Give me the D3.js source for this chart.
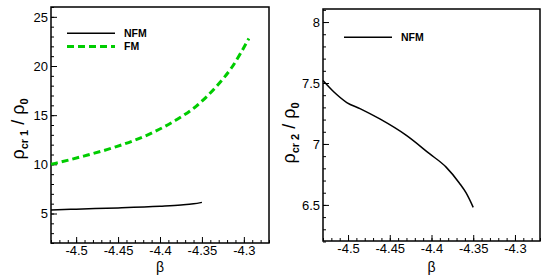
<!DOCTYPE html>
<html>
<head>
<meta charset="utf-8">
<script src="https://cdn.jsdelivr.net/npm/d3@7"></script>
<style>
  body { margin: 0; background: #fff; }
  text { font-family: "Liberation Sans", Arial, sans-serif; }
</style>
</head>
<body>
<div id="vis"></div>
<script>
// values
const betaTicks = [-4.5, -4.45, -4.4, -4.35, -4.3];
const rho1Ticks = [5, 10, 15, 20, 25];
const rho2Ticks = [6.5, 7, 7.5, 8];

const nfm1Beta = [-4.53, -4.5, -4.45, -4.4, -4.375, -4.36, -4.35];
const nfm1Rho  = [5.35, 5.44, 5.57, 5.74, 5.86, 5.98, 6.13];

const fmBeta = [-4.53, -4.525, -4.491, -4.452, -4.412, -4.381, -4.357, -4.333, -4.314, -4.294];
const fmRho  = [10.0, 10.1, 10.84, 11.8, 13.1, 14.5, 15.9, 17.9, 19.9, 22.8];

const nfm2Beta = [-4.53, -4.5175, -4.5015, -4.4857, -4.4619, -4.4301, -4.4024, -4.3825, -4.3667, -4.3587, -4.35];
const nfm2Rho  = [7.52, 7.43, 7.34, 7.29, 7.205, 7.07, 6.92, 6.81, 6.68, 6.60, 6.48];

const width = 544, height = 278;

const svg = d3.select("#vis").append("svg")
  .attr("width", width)
  .attr("height", height)
  .attr("viewBox", [0, 0, width, height]);

function panel(opt) {
  const x = d3.scaleLinear([-4.53, -4.27], [opt.left, opt.right]);
  const y = d3.scaleLinear(opt.yDomain, [opt.bottom, opt.top]);
  const g = svg.append("g");

  // minor ticks
  const xMinor = d3.range(-453, -426).map(i => i / 100);
  g.append("g")
    .attr("transform", `translate(0,${opt.bottom})`)
    .call(d3.axisBottom(x).tickValues(xMinor).tickSize(-3).tickFormat(""))
    .call(a => a.select(".domain").remove());
  g.append("g")
    .attr("transform", `translate(${opt.left},0)`)
    .call(d3.axisLeft(y).tickValues(opt.yMinor).tickSize(-3).tickFormat(""))
    .call(a => a.select(".domain").remove());

  // major ticks + labels
  g.append("g")
    .attr("transform", `translate(0,${opt.bottom})`)
    .call(d3.axisBottom(x).tickValues(betaTicks).tickSize(-6).tickPadding(3).tickFormat(d => String(d)))
    .call(a => a.select(".domain").remove())
    .call(a => a.selectAll("text").attr("font-size", 13).attr("font-family", "Liberation Sans, Arial, sans-serif").attr("fill", "#000"));
  g.append("g")
    .attr("transform", `translate(${opt.left},0)`)
    .call(d3.axisLeft(y).tickValues(opt.yTicks).tickSize(-6).tickPadding(3).tickFormat(d => String(d)))
    .call(a => a.select(".domain").remove())
    .call(a => a.selectAll("text").attr("font-size", 13).attr("font-family", "Liberation Sans, Arial, sans-serif").attr("fill", "#000"));
  g.selectAll(".tick line").attr("stroke", "#000").attr("stroke-width", 1);

  // frame
  g.append("rect")
    .attr("x", opt.left).attr("y", opt.top)
    .attr("width", opt.right - opt.left).attr("height", opt.bottom - opt.top)
    .attr("fill", "none").attr("stroke", "#000").attr("stroke-width", 1.5);

  const line = d3.line().x(d => x(d[0])).y(d => y(d[1])).curve(d3.curveMonotoneX);

  opt.series.forEach(s => {
    g.append("path")
      .datum(d3.zip(s.xs, s.ys))
      .attr("fill", "none")
      .attr("stroke", s.color)
      .attr("stroke-width", s.width)
      .attr("stroke-dasharray", s.dash || null)
      .attr("d", line);
  });

  // legend
  opt.series.forEach((s, i) => {
    const ly = opt.legendY + i * 13.3;
    g.append("line")
      .attr("x1", opt.legendX).attr("x2", opt.legendX + 48)
      .attr("y1", ly).attr("y2", ly)
      .attr("stroke", s.color).attr("stroke-width", s.width)
      .attr("stroke-dasharray", s.dash || null);
    g.append("text")
      .attr("x", opt.legendX + 57).attr("y", ly)
      .attr("dy", "0.36em")
      .attr("font-size", 10.5).attr("font-weight", "bold")
      .text(s.name);
  });

  // axis titles
  g.append("text")
    .attr("x", x(-4.4))
    .attr("y", 272)
    .attr("text-anchor", "middle")
    .attr("font-size", 14)
    .text("β");

  const yl = g.append("text")
    .attr("transform", `translate(${opt.ylabX},${opt.ylabY}) rotate(-90)`)
    .attr("text-anchor", "middle")
    .attr("font-size", 18);
  yl.append("tspan").text("ρ");
  yl.append("tspan").attr("font-size", 11).attr("font-weight", "bold").attr("dy", 4).text(opt.sub);
  yl.append("tspan").attr("dy", -4).text(" / ρ");
  yl.append("tspan").attr("font-size", 11).attr("font-weight", "bold").attr("dy", 4).text("0");
}

panel({
  left: 51, right: 269, top: 7, bottom: 243,
  yDomain: [2, 26],
  yTicks: rho1Ticks,
  yMinor: d3.range(2, 27),
  legendX: 67, legendY: 33.3,
  ylabX: 24, ylabY: 129,
  sub: "cr 1",
  series: [
    { name: "NFM", xs: nfm1Beta, ys: nfm1Rho, color: "#000", width: 1.5 },
    { name: "FM", xs: fmBeta, ys: fmRho, color: "#00cc00", width: 3, dash: "7,4" }
  ]
});

panel({
  left: 323, right: 540, top: 9, bottom: 241,
  yDomain: [6.204, 8.107],
  yTicks: rho2Ticks,
  yMinor: d3.range(62, 82).map(i => i / 10),
  legendX: 344, legendY: 37.3,
  ylabX: 295, ylabY: 133,
  sub: "cr 2",
  series: [
    { name: "NFM", xs: nfm2Beta, ys: nfm2Rho, color: "#000", width: 1.5 }
  ]
});
</script>
</body>
</html>
